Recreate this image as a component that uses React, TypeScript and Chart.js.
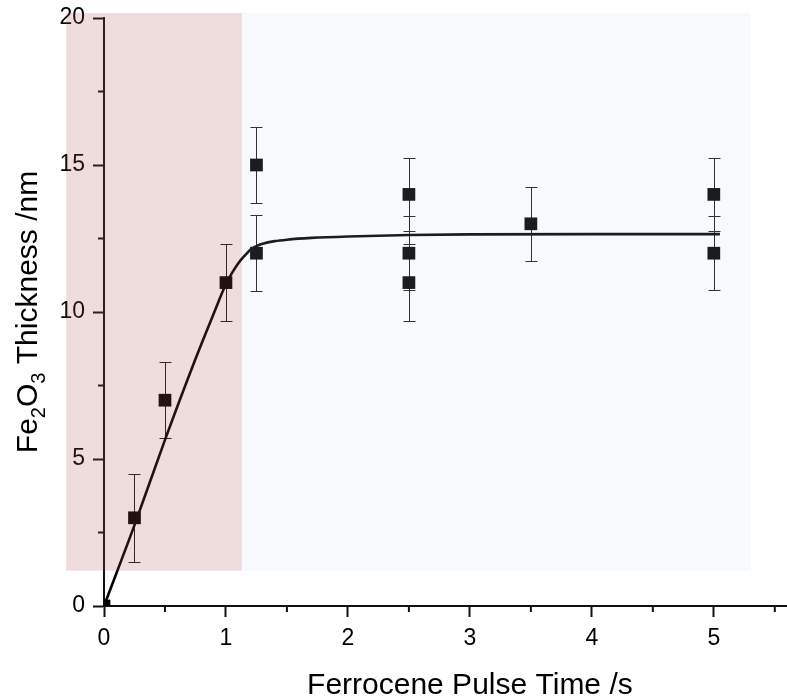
import React, { useEffect, useRef } from "react";
import { Chart, registerables } from "chart.js";

Chart.register(...registerables);

// Measured points
const pulseTime = [0, 0.25, 0.5, 1.0, 1.25, 1.25, 2.5, 2.5, 2.5, 3.5, 5, 5];
const thickness = [0, 3, 7, 11, 15, 12, 14, 12, 11, 13, 14, 12];
const thicknessErr = [0, 1.5, 1.3, 1.3, 1.3, 1.3, 1.25, 1.25, 1.3, 1.25, 1.25, 1.25];

// Fitted curve
const fitTime = [0, 0.25, 0.5, 0.75, 0.9, 1.0, 1.05, 1.1, 1.15, 1.2, 1.25, 1.3, 1.4, 1.5, 1.7, 2.0, 2.5, 3.0, 4.0, 5.05];
const fitThickness = [0, 2.75, 5.65, 8.4, 9.95, 10.95, 11.33, 11.65, 11.9, 12.12, 12.24, 12.32, 12.41, 12.46, 12.52, 12.57, 12.62, 12.64, 12.65, 12.65];

// Axis ticks
const xMajorTicks = [0, 1, 2, 3, 4, 5];
const yMajorTicks = [0, 5, 10, 15, 20];

// Shaded regions (data units)
const regionEdges = [-0.31, 1.13, 5.3];
const regionBounds = [1.2, 20.17];
const regionColors = ["rgba(176,78,78,0.2)", "rgba(195,210,240,0.133)"];

const FONT = "'Liberation Sans', Arial, sans-serif";
const AXIS_COLOR = "#111111";

const errorBarPlugin = {
  id: "errorBars",
  beforeDatasetsDraw(chart: any) {
    const { ctx, scales } = chart;
    const x = scales.x, y = scales.y;
    ctx.save();
    ctx.strokeStyle = "#1a1a1a";
    ctx.lineWidth = 1;
    pulseTime.forEach((t, i) => {
      const e = thicknessErr[i];
      if (!e) return;
      const px = Math.round(x.getPixelForValue(t)) + 0.5;
      const top = Math.round(y.getPixelForValue(thickness[i] + e)) + 0.5;
      const bot = Math.round(y.getPixelForValue(thickness[i] - e)) + 0.5;
      ctx.beginPath();
      ctx.moveTo(px, top);
      ctx.lineTo(px, bot);
      ctx.moveTo(px - 6, top);
      ctx.lineTo(px + 6, top);
      ctx.moveTo(px - 6, bot);
      ctx.lineTo(px + 6, bot);
      ctx.stroke();
    });
    ctx.restore();
  },
};

const minorTickPlugin = {
  id: "minorTicks",
  beforeDatasetsDraw(chart: any) {
    const { ctx, scales, chartArea } = chart;
    const x = scales.x, y = scales.y;
    ctx.save();
    ctx.strokeStyle = AXIS_COLOR;
    ctx.lineWidth = 2;
    ctx.beginPath();
    x.ticks.forEach((t: any) => {
      if (xMajorTicks.includes(t.value)) return;
      const px = x.getPixelForValue(t.value);
      ctx.moveTo(px, chartArea.bottom);
      ctx.lineTo(px, chartArea.bottom + 6);
    });
    y.ticks.forEach((t: any) => {
      if (yMajorTicks.includes(t.value)) return;
      const py = y.getPixelForValue(t.value);
      ctx.moveTo(chartArea.left, py);
      ctx.lineTo(chartArea.left - 6, py);
    });
    ctx.stroke();
    ctx.restore();
  },
};

const regionPlugin = {
  id: "regions",
  afterDatasetsDraw(chart: any) {
    const { ctx, scales } = chart;
    const x = scales.x, y = scales.y;
    ctx.save();
    const top = y.getPixelForValue(regionBounds[1]);
    const bot = y.getPixelForValue(regionBounds[0]);
    for (let i = 0; i < regionColors.length; i++) {
      const l = x.getPixelForValue(regionEdges[i]);
      const r = x.getPixelForValue(regionEdges[i + 1]);
      ctx.fillStyle = regionColors[i];
      ctx.fillRect(l, top, r - l, bot - top);
    }
    ctx.restore();
  },
};

const titlePlugin = {
  id: "titles",
  afterDraw(chart: any) {
    const { ctx, chartArea, scales } = chart;
    ctx.save();
    ctx.fillStyle = "#000";
    // X title
    ctx.font = `30px ${FONT}`;
    ctx.textAlign = "center";
    ctx.textBaseline = "alphabetic";
    ctx.fillText("Ferrocene Pulse Time /s", scales.x.getPixelForValue(3), chartArea.bottom + 88);

    // Y title with subscripts
    const parts: [string, boolean][] = [
      ["Fe", false],
      ["2", true],
      ["O", false],
      ["3", true],
      [" Thickness /nm", false],
    ];
    const mainFont = `30px ${FONT}`;
    const subFont = `20px ${FONT}`;
    let total = 0;
    parts.forEach(([s, sub]) => {
      ctx.font = sub ? subFont : mainFont;
      total += ctx.measureText(s).width;
    });
    const cy = (chartArea.top + chartArea.bottom) / 2;
    ctx.translate(chartArea.left - 67, cy);
    ctx.rotate(-Math.PI / 2);
    ctx.textAlign = "left";
    let pos = -total / 2;
    parts.forEach(([s, sub]) => {
      ctx.font = sub ? subFont : mainFont;
      ctx.fillText(s, pos, sub ? 8 : 0);
      pos += ctx.measureText(s).width;
    });
    ctx.restore();
  },
};

export default function App() {
  const canvasRef = useRef<HTMLCanvasElement | null>(null);

  useEffect(() => {
    if (!canvasRef.current) return;
    const chart = new Chart(canvasRef.current, {
      type: "scatter",
      data: {
        datasets: [
          {
            type: "line",
            label: "fit",
            data: fitTime.map((t, i) => ({ x: t, y: fitThickness[i] })),
            borderColor: "#000",
            borderWidth: 2.6,
            pointRadius: 0,
            cubicInterpolationMode: "monotone",
            fill: false,
            clip: 0,
          } as any,
          {
            type: "scatter",
            label: "data",
            data: pulseTime.map((t, i) => ({ x: t, y: thickness[i] })),
            pointStyle: "rect",
            pointRadius: 9,
            pointBackgroundColor: "#000",
            pointBorderWidth: 0,
            clip: 0,
          } as any,
        ],
      },
      options: {
        responsive: false,
        animation: false,
        events: [],
        layout: { autoPadding: false, padding: { top: 18, right: 0, left: 0, bottom: 0 } },
        plugins: {
          legend: { display: false },
          tooltip: { enabled: false },
        },
        scales: {
          x: {
            type: "linear",
            min: 0,
            max: 5.6,
            afterFit: (s: any) => {
              s.height = 92;
              s.paddingLeft = 0;
              s.paddingRight = 0;
            },
            border: { display: true, color: AXIS_COLOR, width: 2 },
            grid: {
              drawOnChartArea: false,
              drawTicks: true,
              tickLength: 11,
              tickWidth: 2,
              tickColor: (c: any) =>
                c.tick && xMajorTicks.includes(c.tick.value) ? AXIS_COLOR : "rgba(0,0,0,0)",
            },
            ticks: {
              stepSize: 0.5,
              includeBounds: false,
              autoSkip: false,
              maxRotation: 0,
              padding: 8,
              color: "#000",
              font: { family: FONT, size: 23 },
              callback: (v: any) => (xMajorTicks.includes(Number(v)) ? String(v) : ""),
            },
          },
          y: {
            type: "linear",
            min: 0,
            max: 20,
            afterFit: (s: any) => {
              s.width = 104;
              s.paddingTop = 0;
              s.paddingBottom = 0;
            },
            border: { display: true, color: AXIS_COLOR, width: 2 },
            grid: {
              drawOnChartArea: false,
              drawTicks: true,
              tickLength: 11,
              tickWidth: 2,
              tickColor: (c: any) =>
                c.tick && yMajorTicks.includes(c.tick.value) ? AXIS_COLOR : "rgba(0,0,0,0)",
            },
            ticks: {
              stepSize: 2.5,
              autoSkip: false,
              padding: 8,
              color: "#000",
              font: { family: FONT, size: 23 },
              callback: (v: any) => (yMajorTicks.includes(Number(v)) ? String(v) : ""),
            },
          },
        },
      } as any,
      plugins: [errorBarPlugin, minorTickPlugin, regionPlugin, titlePlugin],
    });
    return () => chart.destroy();
  }, []);

  return (
    <div style={{ position: "fixed", left: 0, top: 0, width: 787, height: 698, background: "#fff" }}>
      <canvas ref={canvasRef} width={787} height={698} style={{ display: "block" }} />
    </div>
  );
}
